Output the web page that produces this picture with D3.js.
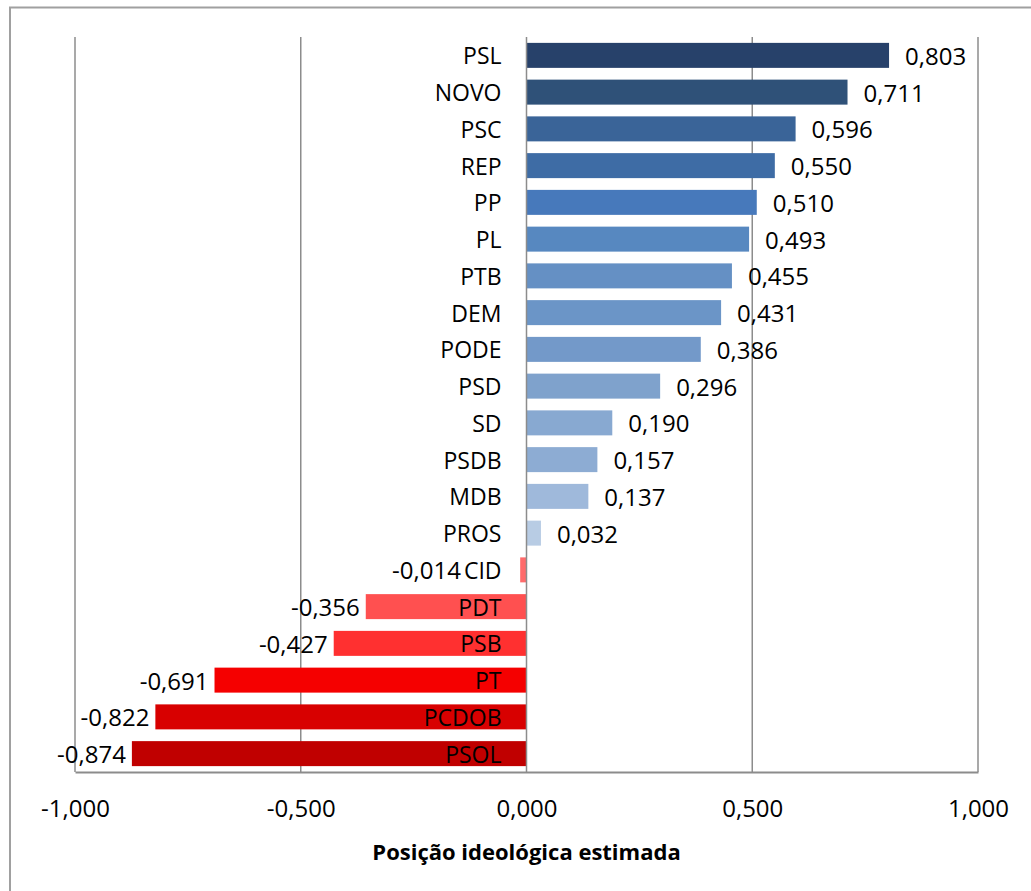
<!DOCTYPE html>
<html>
<head>
<meta charset="utf-8">
<script src="https://cdn.jsdelivr.net/npm/d3@7/dist/d3.min.js"></script>
<style>
  html, body { margin: 0; padding: 0; background: #fff; }
  svg { display: block; font-family: "Open Sans", sans-serif; }
</style>
</head>
<body>
<svg id="chart" width="1031" height="891"></svg>
<script>
// Party abbreviations, top to bottom
const parties = ["PSL","NOVO","PSC","REP","PP","PL","PTB","DEM","PODE","PSD","SD","PSDB","MDB","PROS","CID","PDT","PSB","PT","PCDOB","PSOL"];
// Estimated ideological position of each party
const positions = [0.803,0.711,0.596,0.550,0.510,0.493,0.455,0.431,0.386,0.296,0.190,0.157,0.137,0.032,-0.014,-0.356,-0.427,-0.691,-0.822,-0.874];
// Bar fill per party
const fills = ["#27416a","#2f5178","#3a6498","#3e6ca5","#4779bb","#5788c0","#6590c4","#6b95c7","#7399c9","#7fa2cc","#88a9d1","#8dacd3","#9fb9db","#b8cce4","#ff6b6b","#ff5050","#ff3030","#f50000","#d80000","#c00000"];
// Horizontal axis ticks
const tickValues = [-1, -0.5, 0, 0.5, 1];
const axisTitle = "Posição ideológica estimada";

const svg = d3.select("#chart");
const fmt = v => d3.format(".3f")(v).replace(".", ",").replace("−", "-");

const plot = { left: 75, right: 978, top: 37, bottom: 772 };

const x = d3.scaleLinear().domain([-1, 1]).range([plot.left, plot.right]);
const y = d3.scaleBand().domain(parties).range([plot.top, plot.bottom]).paddingInner(0.32).paddingOuter(0.16);

// Outer chart frame
svg.append("rect")
  .attr("x", 10).attr("y", 7.5).attr("width", 1040).attr("height", 900)
  .attr("fill", "none").attr("stroke", "#a0a0a0").attr("stroke-width", 2);

// Vertical gridlines
svg.append("g").selectAll("line")
  .data(tickValues.filter(t => t !== 0))
  .join("line")
  .attr("x1", d => x(d)).attr("x2", d => x(d))
  .attr("y1", plot.top).attr("y2", plot.bottom)
  .attr("stroke", "#8c8c8c").attr("stroke-width", 1.5);

// Bars
const rows = parties.map((p, i) => ({ party: p, value: positions[i], fill: fills[i] }));
svg.append("g").selectAll("rect")
  .data(rows)
  .join("rect")
  .attr("x", d => x(Math.min(0, d.value)))
  .attr("width", d => Math.abs(x(d.value) - x(0)))
  .attr("y", d => y(d.party))
  .attr("height", y.bandwidth())
  .attr("fill", d => d.fill);

// Zero line and bottom axis line
svg.append("line")
  .attr("x1", x(0)).attr("x2", x(0))
  .attr("y1", plot.top).attr("y2", plot.bottom)
  .attr("stroke", "#8c8c8c").attr("stroke-width", 1.5);

const xAxis = d3.axisBottom(x).tickValues(tickValues).tickSize(0).tickPadding(28).tickFormat(fmt);
const gx = svg.append("g").attr("transform", `translate(0,${plot.bottom})`).call(xAxis);
gx.select(".domain").attr("stroke", "#8c8c8c").attr("stroke-width", 2);
gx.selectAll("text").attr("font-size", 24).attr("fill", "#000").attr("font-family", "'Open Sans', sans-serif");

// Axis title
svg.append("text")
  .attr("x", x(0)).attr("y", 851)
  .attr("text-anchor", "middle").attr("dominant-baseline", "central")
  .attr("font-size", 22).attr("font-weight", "bold")
  .text(axisTitle);

// Category labels, right-aligned just left of the zero line
const labelRight = x(0) - 25;
const catLabels = svg.append("g").selectAll("text")
  .data(rows)
  .join("text")
  .attr("x", labelRight)
  .attr("y", d => y(d.party) + y.bandwidth() / 2)
  .attr("text-anchor", "end").attr("dominant-baseline", "central")
  .attr("font-size", 23).attr("fill", "#000")
  .text(d => d.party);

// Value labels at the outer end of each bar
const catLeft = new Map();
catLabels.each(function(d) { catLeft.set(d.party, labelRight - this.getComputedTextLength()); });

svg.append("g").selectAll("text")
  .data(rows)
  .join("text")
  .attr("x", d => d.value >= 0 ? x(d.value) + 16 : Math.min(x(d.value) - 6, catLeft.get(d.party) - 3))
  .attr("y", d => y(d.party) + y.bandwidth() / 2)
  .attr("text-anchor", d => d.value >= 0 ? "start" : "end")
  .attr("dominant-baseline", "central")
  .attr("font-size", 24).attr("fill", "#000")
  .text(d => fmt(d.value));
</script>
</body>
</html>
